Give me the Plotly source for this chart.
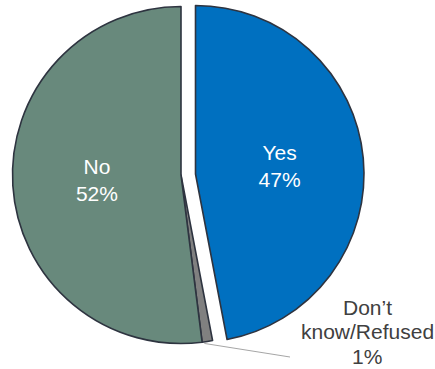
import math
import plotly.graph_objects as go

# Survey responses (percent)
labels = ["Yes", "Don’t know/Refused", "No"]
values = [47, 1, 52]
colors = ["#0070C0", "#808080", "#68897C"]

W, H = 435, 369
R = 168.5                      # pie radius in px
BASE_C = (181.0, 175.0)        # centre of the base pie (No + DK), px from top-left
EXPLODE_C = (195.5, 174.0)     # centre of the exploded "Yes" slice
OUTLINE = "#2E3440"
FONT = "Arial, Liberation Sans, sans-serif"


def domain(center):
    cx, cy = center
    return dict(
        x=[(cx - R) / W, (cx + R) / W],
        y=[1 - (cy + R) / H, 1 - (cy - R) / H],
    )


def px_to_paper(x, y):
    return x / W, 1 - y / H


common = dict(
    labels=labels,
    values=values,
    sort=False,
    direction="clockwise",
    rotation=0,
    hoverinfo="skip",
    showlegend=False,
    textposition="inside",
    insidetextorientation="horizontal",
    insidetextfont=dict(color="white", size=21, family=FONT),
)

clear = "rgba(0,0,0,0)"

# base pie: "No" and "Don't know" slices, Yes left empty
base = go.Pie(
    **common,
    domain=domain(BASE_C),
    marker=dict(colors=[clear, colors[1], colors[2]],
                line=dict(color=[clear, OUTLINE, OUTLINE], width=1.6)),
    texttemplate=["", "", "%{label}<br>%{value}%"],
)

# exploded "Yes" slice
yes = go.Pie(
    **common,
    domain=domain(EXPLODE_C),
    marker=dict(colors=[colors[0], clear, clear],
                line=dict(color=[OUTLINE, clear, clear], width=1.6)),
    texttemplate=["%{label}<br>%{value}%", "", ""],
)

fig = go.Figure([base, yes])

# leader line + label for the small "Don't know" slice
start = sum(values[:1]) / sum(values) * 360
mid = math.radians(start + values[1] / sum(values) * 360 / 2)
sx = BASE_C[0] + R * math.sin(mid)
sy = BASE_C[1] - R * math.cos(mid)
x0, y0 = px_to_paper(sx - 3, sy + 2)
x1, y1 = px_to_paper(290, 357)
fig.add_shape(type="line", xref="paper", yref="paper", x0=x0, y0=y0, x1=x1, y1=y1,
              line=dict(color="#A6A6A6", width=1))

# label lines set individually for tighter line spacing
dk_lines = labels[1].split(" ") + [f"{values[1]}%"]
for i, line in enumerate(dk_lines):
    tx, ty = px_to_paper(367, 307 + 24.5 * i)
    fig.add_annotation(
        x=tx, y=ty, xref="paper", yref="paper", showarrow=False,
        text=line,
        font=dict(color="#404040", size=21, family=FONT),
        xanchor="center", yanchor="middle",
    )

fig.update_layout(
    width=W, height=H,
    margin=dict(l=0, r=0, t=0, b=0),
    paper_bgcolor="white",
    plot_bgcolor="white",
)

fig.write_html("out.html")
